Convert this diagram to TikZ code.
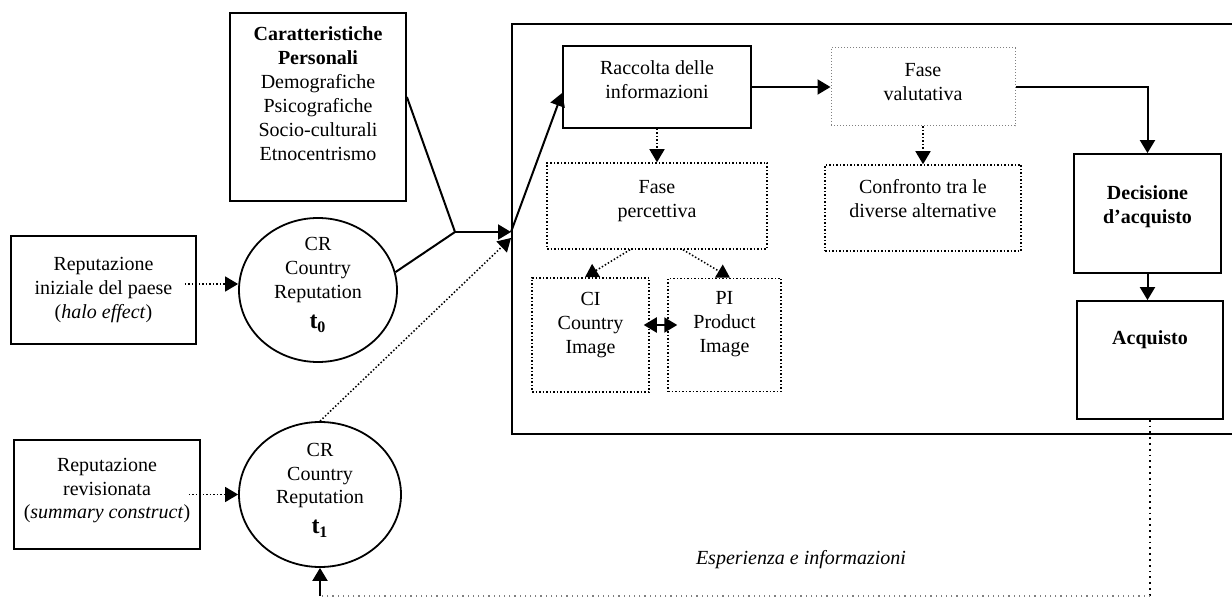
\documentclass[tikz,border=0pt]{standalone}
\usepackage{fontspec}
\setmainfont{Liberation Serif}
\usetikzlibrary{shapes.geometric, arrows.meta}

\tikzstyle{normal} = [rectangle, draw=black, line width=0.9pt, align=center, text depth=0pt]
\tikzstyle{dotbox} = [rectangle, draw=black, densely dotted, line width=0.75pt, align=center, text depth=0pt]
\tikzstyle{greybox} = [rectangle, draw=gray, densely dotted, line width=0.5pt, align=center, text depth=0pt]
\tikzstyle{rep} = [ellipse, draw=black, line width=0.9pt, align=center, inner sep=0pt, text depth=0pt]
\tikzstyle{bigbox} = [rectangle, draw=black, line width=1pt]
\tikzstyle{line} = [line width=1pt]
\tikzstyle{arrow} = [line width=1pt, -{Triangle[length=6.5pt, width=7.5pt]}]
\tikzstyle{dblarrow} = [line width=1pt, {Triangle[length=6.5pt, width=7.5pt]}-{Triangle[length=6.5pt, width=7.5pt]}]
\tikzstyle{dotarrow} = [line width=0.75pt, densely dotted, -{Triangle[length=6.5pt, width=7.5pt]}]

\begin{document}
\begin{tikzpicture}[x=0.5pt, y=-0.5pt, node distance=100pt]
\useasboundingbox (0,0) rectangle (1232,598);
\clip (0,0) rectangle (1232,598);

%% NODES

\node (proc) [bigbox, minimum width=374pt, minimum height=205pt] at (886,229) {};

\node (cr0) [rep, minimum width=79pt, minimum height=72pt, text height=39pt] at (318,290) {CR\\Country\\Reputation\\[3pt]{\large\bfseries t\textsubscript{0}}};
\node (rep0) [normal, left of=cr0, node distance=107.25pt, minimum width=92.5pt, minimum height=54pt, text height=29pt] {Reputazione\\iniziale del paese\\(\textit{halo effect})};
\node (caratt) [normal, above of=cr0, node distance=91.5pt, minimum width=88pt, minimum height=94pt, text height=54pt] {\textbf{Caratteristiche}\\\textbf{Personali}\\Demografiche\\Psicografiche\\Socio-culturali\\Etnocentrismo};
\node (cr1) [rep, below of=cr0, node distance=102.25pt, xshift=1pt, minimum width=81pt, minimum height=72.5pt, text height=39.5pt] {CR\\Country\\Reputation\\[3pt]{\large\bfseries t\textsubscript{1}}};
\node (rep1) [normal, left of=cr1, node distance=106.5pt, minimum width=93pt, minimum height=54.5pt, text height=24.5pt] {Reputazione\\revisionata\\(\textit{summary construct})};

\node (racc) [normal, minimum width=94pt, minimum height=41pt, text height=12pt] at (657,87) {Raccolta delle\\informazioni};
\node (fval) [greybox, right of=racc, node distance=133pt, minimum width=92pt, minimum height=39pt, text height=14pt] {Fase\\valutativa};
\node (fperc) [dotbox, below of=racc, node distance=59.5pt, minimum width=110pt, minimum height=43pt, text height=12pt] {Fase\\percettiva};
\node (confr) [dotbox, below of=fval, node distance=60.5pt, minimum width=98pt, minimum height=43pt, text height=10pt] {Confronto tra le\\diverse alternative};
\node (ci) [dotbox, minimum width=58.5pt, minimum height=57pt, text height=19pt] at (590.5,335) {CI\\Country\\Image};
\node (pi) [dotbox, right of=ci, node distance=67pt, minimum width=56.5pt, minimum height=56.5pt, text height=17.5pt] {PI\\Product\\Image};

\node (decis) [normal, minimum width=73.5pt, minimum height=59.5pt, text height=10.5pt] at (1147.5,213.5) {\textbf{Decisione}\\\textbf{d'acquisto}};
\node (acq) [normal, below of=decis, node distance=73.25pt, xshift=1.25pt, minimum width=73pt, minimum height=59pt, text height=0pt, text depth=15pt] {\textbf{Acquisto}};

\node (esper) at (801,560) {\textit{Esperienza e informazioni}};

\coordinate (jn) at (455,232);
\coordinate (entry) at (proc.west |- jn);
\coordinate (fb) at (318,596);
\coordinate (fbr) at (acq.south |- fb);

%% ARROWS

\draw [line] ([yshift=5pt]caratt.east) -- (jn);
\draw [line] (cr0.13) -- (jn);
\draw [arrow] (jn) -- (entry);
\draw [arrow] (entry) -- ([yshift=-3pt]racc.west);
\draw [dotarrow] ([xshift=-6pt,yshift=3pt]rep0.east) -- ([yshift=3pt]cr0.west);
\draw [dotarrow] ([xshift=-6pt]rep1.east) -- (cr1.west);
\draw [dotarrow] (cr1.north) -- ([yshift=-3pt]entry);

\draw [arrow] (racc.east) -- (racc.east -| fval.west);
\draw [arrow] (fval.east) -| (decis.north);
\draw [arrow] (decis.south) -- (decis.south |- acq.north);
\draw [dotarrow] (racc.south) -- (fperc.north);
\draw [dotarrow] (fval.south) -- (fval.south |- confr.north);
\draw [dotarrow] ([xshift=-13.5pt]fperc.south) -- ([xshift=-2.75pt]ci.north);
\draw [dotarrow] ([xshift=13pt]fperc.south) -- ([xshift=2.75pt]pi.north);
\draw [dblarrow] ([shift={(-3pt,5pt)}]ci.east) -- ([shift={(5pt,5pt)}]pi.west);

% feedback
\draw [dotted, line width=0.9pt] (acq.south) -- (fbr);
\draw [dotted, gray, line width=0.6pt] (fbr) -- (cr1.south |- fb);
\draw [arrow] (cr1.south |- fb) -- (cr1.south);

\end{tikzpicture}
\end{document}
